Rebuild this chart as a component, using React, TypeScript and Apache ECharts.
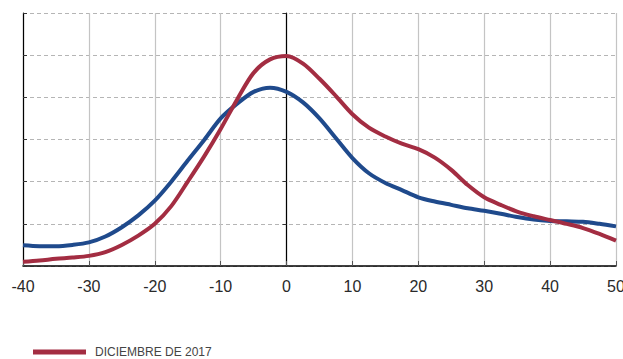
import React, { useEffect, useRef } from "react";
import * as echarts from "echarts";

const xTicks = [-40, -30, -20, -10, 0, 10, 20, 30, 40, 50];
const xs = [
  -40, -37.5, -35, -32.5, -30, -27.5, -25, -22.5, -20, -17.5, -15, -12.5, -10, -7.5, -5, -2.5, 0,
  2.5, 5, 7.5, 10, 12.5, 15, 17.5, 20, 22.5, 25, 27.5, 30, 32.5, 35, 37.5, 40, 42.5, 45, 47.5, 50,
];
const redY = [
  0.1, 0.13, 0.17, 0.2, 0.24, 0.33, 0.5, 0.72, 1.0, 1.42, 2.0, 2.6, 3.25, 3.95, 4.58, 4.9, 4.98,
  4.8, 4.44, 4.03, 3.6, 3.28, 3.07, 2.9, 2.77, 2.57, 2.28, 1.92, 1.63, 1.45, 1.29, 1.18, 1.09, 1.0, 0.9, 0.76, 0.6,
];
const blueY = [
  0.49, 0.47, 0.47, 0.5, 0.56, 0.7, 0.92, 1.2, 1.55, 2.0, 2.5, 2.99, 3.5, 3.85, 4.13, 4.23, 4.13,
  3.88, 3.5, 3.03, 2.56, 2.2, 1.97, 1.8, 1.63, 1.53, 1.45, 1.37, 1.31, 1.24, 1.16, 1.1, 1.07, 1.06, 1.05, 1.0, 0.94,
];
const redName = "DICIEMBRE DE 2017";
const blueName = "SERIE 2";

export default function App() {
  const ref = useRef<HTMLDivElement>(null);
  useEffect(() => {
    const chart = echarts.init(ref.current!, null, { renderer: "svg" });
    const yBase = {
      type: "value",
      min: 0,
      max: 6,
      interval: 1,
      axisLabel: { show: false },
    };
    chart.setOption({
      animation: false,
      grid: { left: 23, right: 7, top: 13, bottom: 93, outerBoundsMode: "none", containLabel: false },
      legend: {
        data: [redName],
        left: 33,
        top: 346,
        padding: 0,
        icon: "rect",
        itemWidth: 53,
        itemHeight: 5,
        textStyle: {
          fontFamily: "Liberation Sans, Arial",
          fontSize: 12,
          lineHeight: 12,
          color: "#444",
          padding: [0, 0, 0, 4],
        },
      },
      xAxis: {
        type: "value",
        min: -40,
        max: 50,
        interval: 10,
        axisLine: { lineStyle: { color: "#000", width: 1.5 } },
        axisTick: { inside: true, length: 5, lineStyle: { color: "#555" } },
        axisLabel: {
          fontFamily: "Liberation Sans, Arial",
          fontSize: 16,
          color: "#2a2a2a",
          margin: 12,
          formatter: (v: number) => (xTicks.includes(v) ? String(v) : ""),
        },
        splitLine: { show: true, lineStyle: { color: "#c4c4c4", width: 1.2, type: "solid" } },
      },
      yAxis: [
        {
          ...yBase,
          axisLine: { show: true, onZero: true, lineStyle: { color: "#000", width: 1.2 } },
          axisTick: { show: true, length: 4, lineStyle: { color: "#333" } },
          splitLine: { show: true, lineStyle: { color: "#b5b5b5", type: [4, 3], width: 1 } },
        },
        {
          ...yBase,
          position: "left",
          axisLine: { show: true, onZero: true, lineStyle: { color: "#000", width: 1.2 } },
          axisTick: { show: true, inside: true, length: 4, lineStyle: { color: "#333" } },
          splitLine: { show: false },
        },
      ],
      series: [
        {
          name: blueName,
          type: "line",
          smooth: 0.3,
          showSymbol: false,
          lineStyle: { color: "#1f4a8c", width: 4 },
          itemStyle: { color: "#1f4a8c" },
          data: xs.map((x, i) => [x, blueY[i]]),
          z: 3,
        },
        {
          name: redName,
          type: "line",
          smooth: 0.3,
          showSymbol: false,
          lineStyle: { color: "#a32d42", width: 4 },
          itemStyle: { color: "#a32d42" },
          data: xs.map((x, i) => [x, redY[i]]),
          z: 4,
        },
      ],
    });
    return () => chart.dispose();
  }, []);
  return <div ref={ref} style={{ width: 623, height: 359, position: "absolute", left: 0, top: 0 }} />;
}
